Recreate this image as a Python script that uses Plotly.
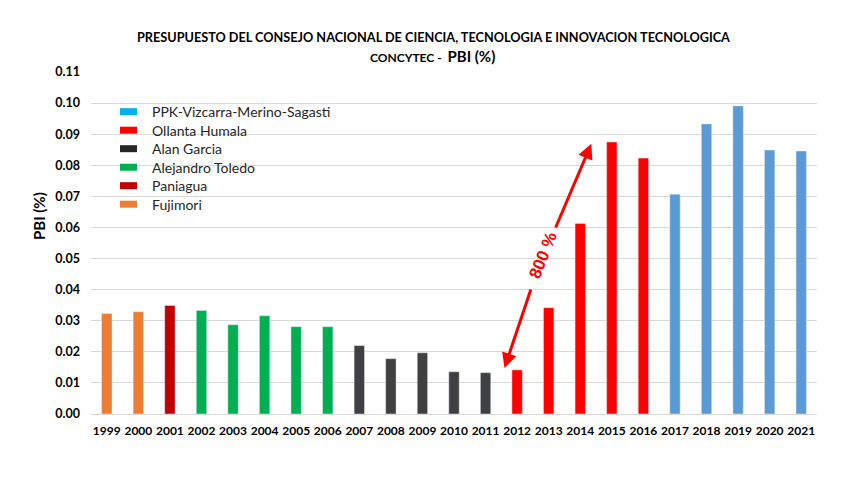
import plotly.graph_objects as go

years = [str(y) for y in range(1999, 2022)]
pbi = [0.0323, 0.0329, 0.0349, 0.0333, 0.0287, 0.0316, 0.0281, 0.0281,
       0.0220, 0.0178, 0.0197, 0.0136, 0.0133,
       0.0142, 0.0342, 0.0613, 0.0875, 0.0823,
       0.0707, 0.0933, 0.0991, 0.0849, 0.0846]
president = (["Fujimori"] * 2 + ["Paniagua"] + ["Alejandro Toledo"] * 5 +
             ["Alan Garcia"] * 5 + ["Ollanta Humala"] * 5 +
             ["PPK-Vizcarra-Merino-Sagasti"] * 5)

legend_names = ["PPK-Vizcarra-Merino-Sagasti", "Ollanta Humala", "Alan Garcia",
                "Alejandro Toledo", "Paniagua", "Fujimori"]
legend_colors = ["#00B0F0", "#FF0000", "#262626", "#00B050", "#C00000", "#ED7D31"]
bar_colors = {"PPK-Vizcarra-Merino-Sagasti": "#5B9BD5", "Ollanta Humala": "#FF0000",
              "Alan Garcia": "#404040", "Alejandro Toledo": "#00B050",
              "Paniagua": "#C00000", "Fujimori": "#ED7D31"}

title_line1 = "PRESUPUESTO DEL CONSEJO NACIONAL DE CIENCIA, TECNOLOGIA E INNOVACION TECNOLOGICA"
title_line2 = "<span style='font-size:12px'>CONCYTEC -  </span><span style='font-size:15px'>PBI (%)</span>"
y_title = "PBI (%)"
arrow_label = "800 %"

FONT = "Lato"
L, R, T, B = 91, 47, 72, 68
PW, PH = 864 - L - R, 482 - T - B


def px_x(x):
    return (x - L) / PW


def px_y(y):
    return 1 - (y - T) / PH


fig = go.Figure()
for name in legend_names[::-1]:
    xs = [y for y, p in zip(years, president) if p == name]
    vs = [v for v, p in zip(pbi, president) if p == name]
    fig.add_trace(go.Bar(x=xs, y=vs, name=name, marker_color=bar_colors[name],
                         width=0.33, showlegend=False))

shapes = []
annotations = []
# manual legend
for i, (n, c) in enumerate(zip(legend_names, legend_colors)):
    yc = px_y(111.7 + i * 18.5)
    shapes.append(dict(type="rect", xref="paper", yref="paper",
                       x0=px_x(120), x1=px_x(137),
                       y0=yc - 3.5 / PH, y1=yc + 3.5 / PH,
                       fillcolor=c, line=dict(width=0)))
    annotations.append(dict(xref="paper", yref="paper", x=px_x(150), y=yc,
                            text=n, showarrow=False, xanchor="left", yanchor="middle",
                            font=dict(family=FONT, size=14, color="#262626")))

# titles
annotations.append(dict(xref="paper", yref="paper", x=px_x(433), y=px_y(37),
                        text="<b>" + title_line1 + "</b>", showarrow=False,
                        xanchor="center", yanchor="middle",
                        font=dict(family=FONT, size=12.7, color="black")))
annotations.append(dict(xref="paper", yref="paper", x=px_x(432), y=px_y(56),
                        text="<b>" + title_line2 + "</b>", showarrow=False,
                        xanchor="center", yanchor="middle",
                        font=dict(family=FONT, size=13, color="black")))
annotations.append(dict(xref="paper", yref="paper", x=px_x(39), y=px_y(216),
                        text="<b>" + y_title + "</b>", showarrow=False, textangle=-90,
                        xanchor="center", yanchor="middle",
                        font=dict(family=FONT, size=15, color="black")))

# 800 % arrow
annotations.append(dict(xref="x", yref="y", axref="x", ayref="y",
                        x=12.6, y=0.0148, ax=13.45, ay=0.0405, text="",
                        showarrow=True, arrowhead=2, arrowsize=1, arrowwidth=3,
                        arrowcolor="#FF0000"))
annotations.append(dict(xref="x", yref="y", axref="x", ayref="y",
                        x=15.35, y=0.0869, ax=14.2, ay=0.0595, text="",
                        showarrow=True, arrowhead=2, arrowsize=1, arrowwidth=3,
                        arrowcolor="#FF0000"))
annotations.append(dict(xref="x", yref="y", x=13.82, y=0.0510,
                        text="<b>" + arrow_label + "</b>",
                        showarrow=False, textangle=-68,
                        font=dict(family="Liberation Sans", size=17, color="#FF0000")))

fig.update_layout(
    width=864, height=482,
    margin=dict(l=L, r=R, t=T, b=B),
    paper_bgcolor="white", plot_bgcolor="white",
    barmode="overlay",
    font=dict(family=FONT, color="#262626"),
    xaxis=dict(type="category", categoryorder="array", categoryarray=years,
               range=[-0.5, 22.5], showgrid=False, showline=False, ticks="",
               ticklabelstandoff=8,
               tickfont=dict(family=FONT, size=12, color="black", weight="bold")),
    yaxis=dict(range=[0, 0.11], dtick=0.01, tickformat=".2f",
               showgrid=True, gridcolor="#D9D9D9", gridwidth=1,
               zeroline=True, zerolinecolor="#D9D9D9", zerolinewidth=1,
               showline=False, ticks="", ticklabelstandoff=10,
               tickfont=dict(family=FONT, size=12.5, color="black", weight="bold")),
    shapes=shapes,
    annotations=annotations,
)

fig.write_html("out.html")
